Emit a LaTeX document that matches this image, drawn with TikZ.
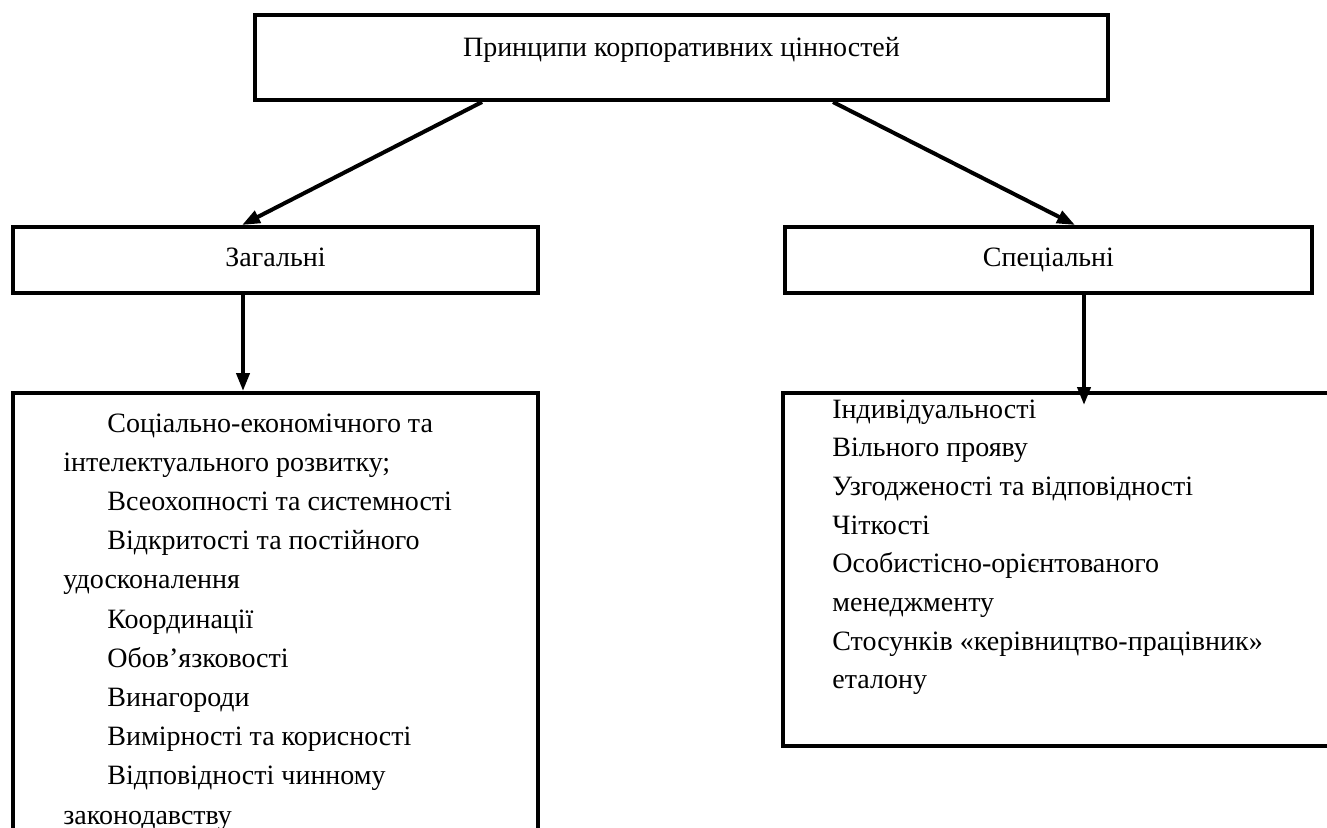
\documentclass[tikz,border=0pt]{standalone}
\usepackage{fontspec}
\setmainfont{Liberation Serif}
\usetikzlibrary{arrows.meta}

\tikzset{
  box/.style={draw, line width=2pt, inner sep=0pt, font=\fontsize{14}{17}\selectfont},
  link/.style={line width=2pt, -{Triangle[length=9pt,width=6.5pt]}},
  item/.style={anchor=base west, inner sep=0pt, font=\fontsize{14}{17}\selectfont}
}

\begin{document}
\begin{tikzpicture}[x=0.5pt,y=-0.5pt]
    \useasboundingbox (0,0) rectangle (1327,827);
    % top level
    \node[box, minimum width=426.5pt, minimum height=42.5pt, text height=9.5pt, text depth=10.6pt] (princ) at (681.5,57.5) {Принципи корпоративних цінностей};
    % second level
    \node[box, minimum width=262.5pt, minimum height=33pt, text height=9.5pt, text depth=3pt] (gen) at (275.5,260) {Загальні};
    \node[box, minimum width=263.5pt, minimum height=33pt, text height=9.5pt, text depth=3pt] (spec) at (1048.5,260) {Спеціальні};
    % list boxes (cut by the page edge)
    \node[box, minimum width=262.5pt, minimum height=253.5pt] (genbox) at (275.5,646.5) {};
    \node[box, minimum width=281pt, minimum height=176.5pt] (specbox) at (1064,569.5) {};
    % list lines
    \foreach \ind/\txt [count=\i from 0] in {1/Соціально-економічного та, 0/інтелектуального розвитку;, 1/Всеохопності та системності, 1/Відкритості та постійного, 0/удосконалення, 1/Координації, 1/Обов’язковості, 1/Винагороди, 1/Вимірності та корисності, 1/Відповідності чинному, 0/законодавству}
        \node[item] (gitem\i) at ({63+44*\ind},{432+39.2*\i}) {\txt};
    \foreach \txt [count=\i from 0] in {Індивідуальності, Вільного прояву, Узгодженості та відповідності, Чіткості, Особистісно-орієнтованого, менеджменту, Стосунків «керівництво-працівник», еталону}
        \node[item] (sitem\i) at (832,{418+38.7*\i}) {\txt};
    % connectors
    \draw[link] ([xshift=-99.75pt]princ.south) -- ([xshift=-16.75pt]gen.north);
    \draw[link] ([xshift=75.75pt]princ.south) -- ([xshift=13.25pt]spec.north);
    \draw[link] ([xshift=-16.25pt]gen.south) -- ([xshift=-16.25pt]gen.south |- genbox.north);
    \draw[link] ([xshift=17.75pt]spec.south) -- ([xshift=17.75pt,yshift=-7pt]spec.south |- specbox.north);
\end{tikzpicture}
\end{document}
